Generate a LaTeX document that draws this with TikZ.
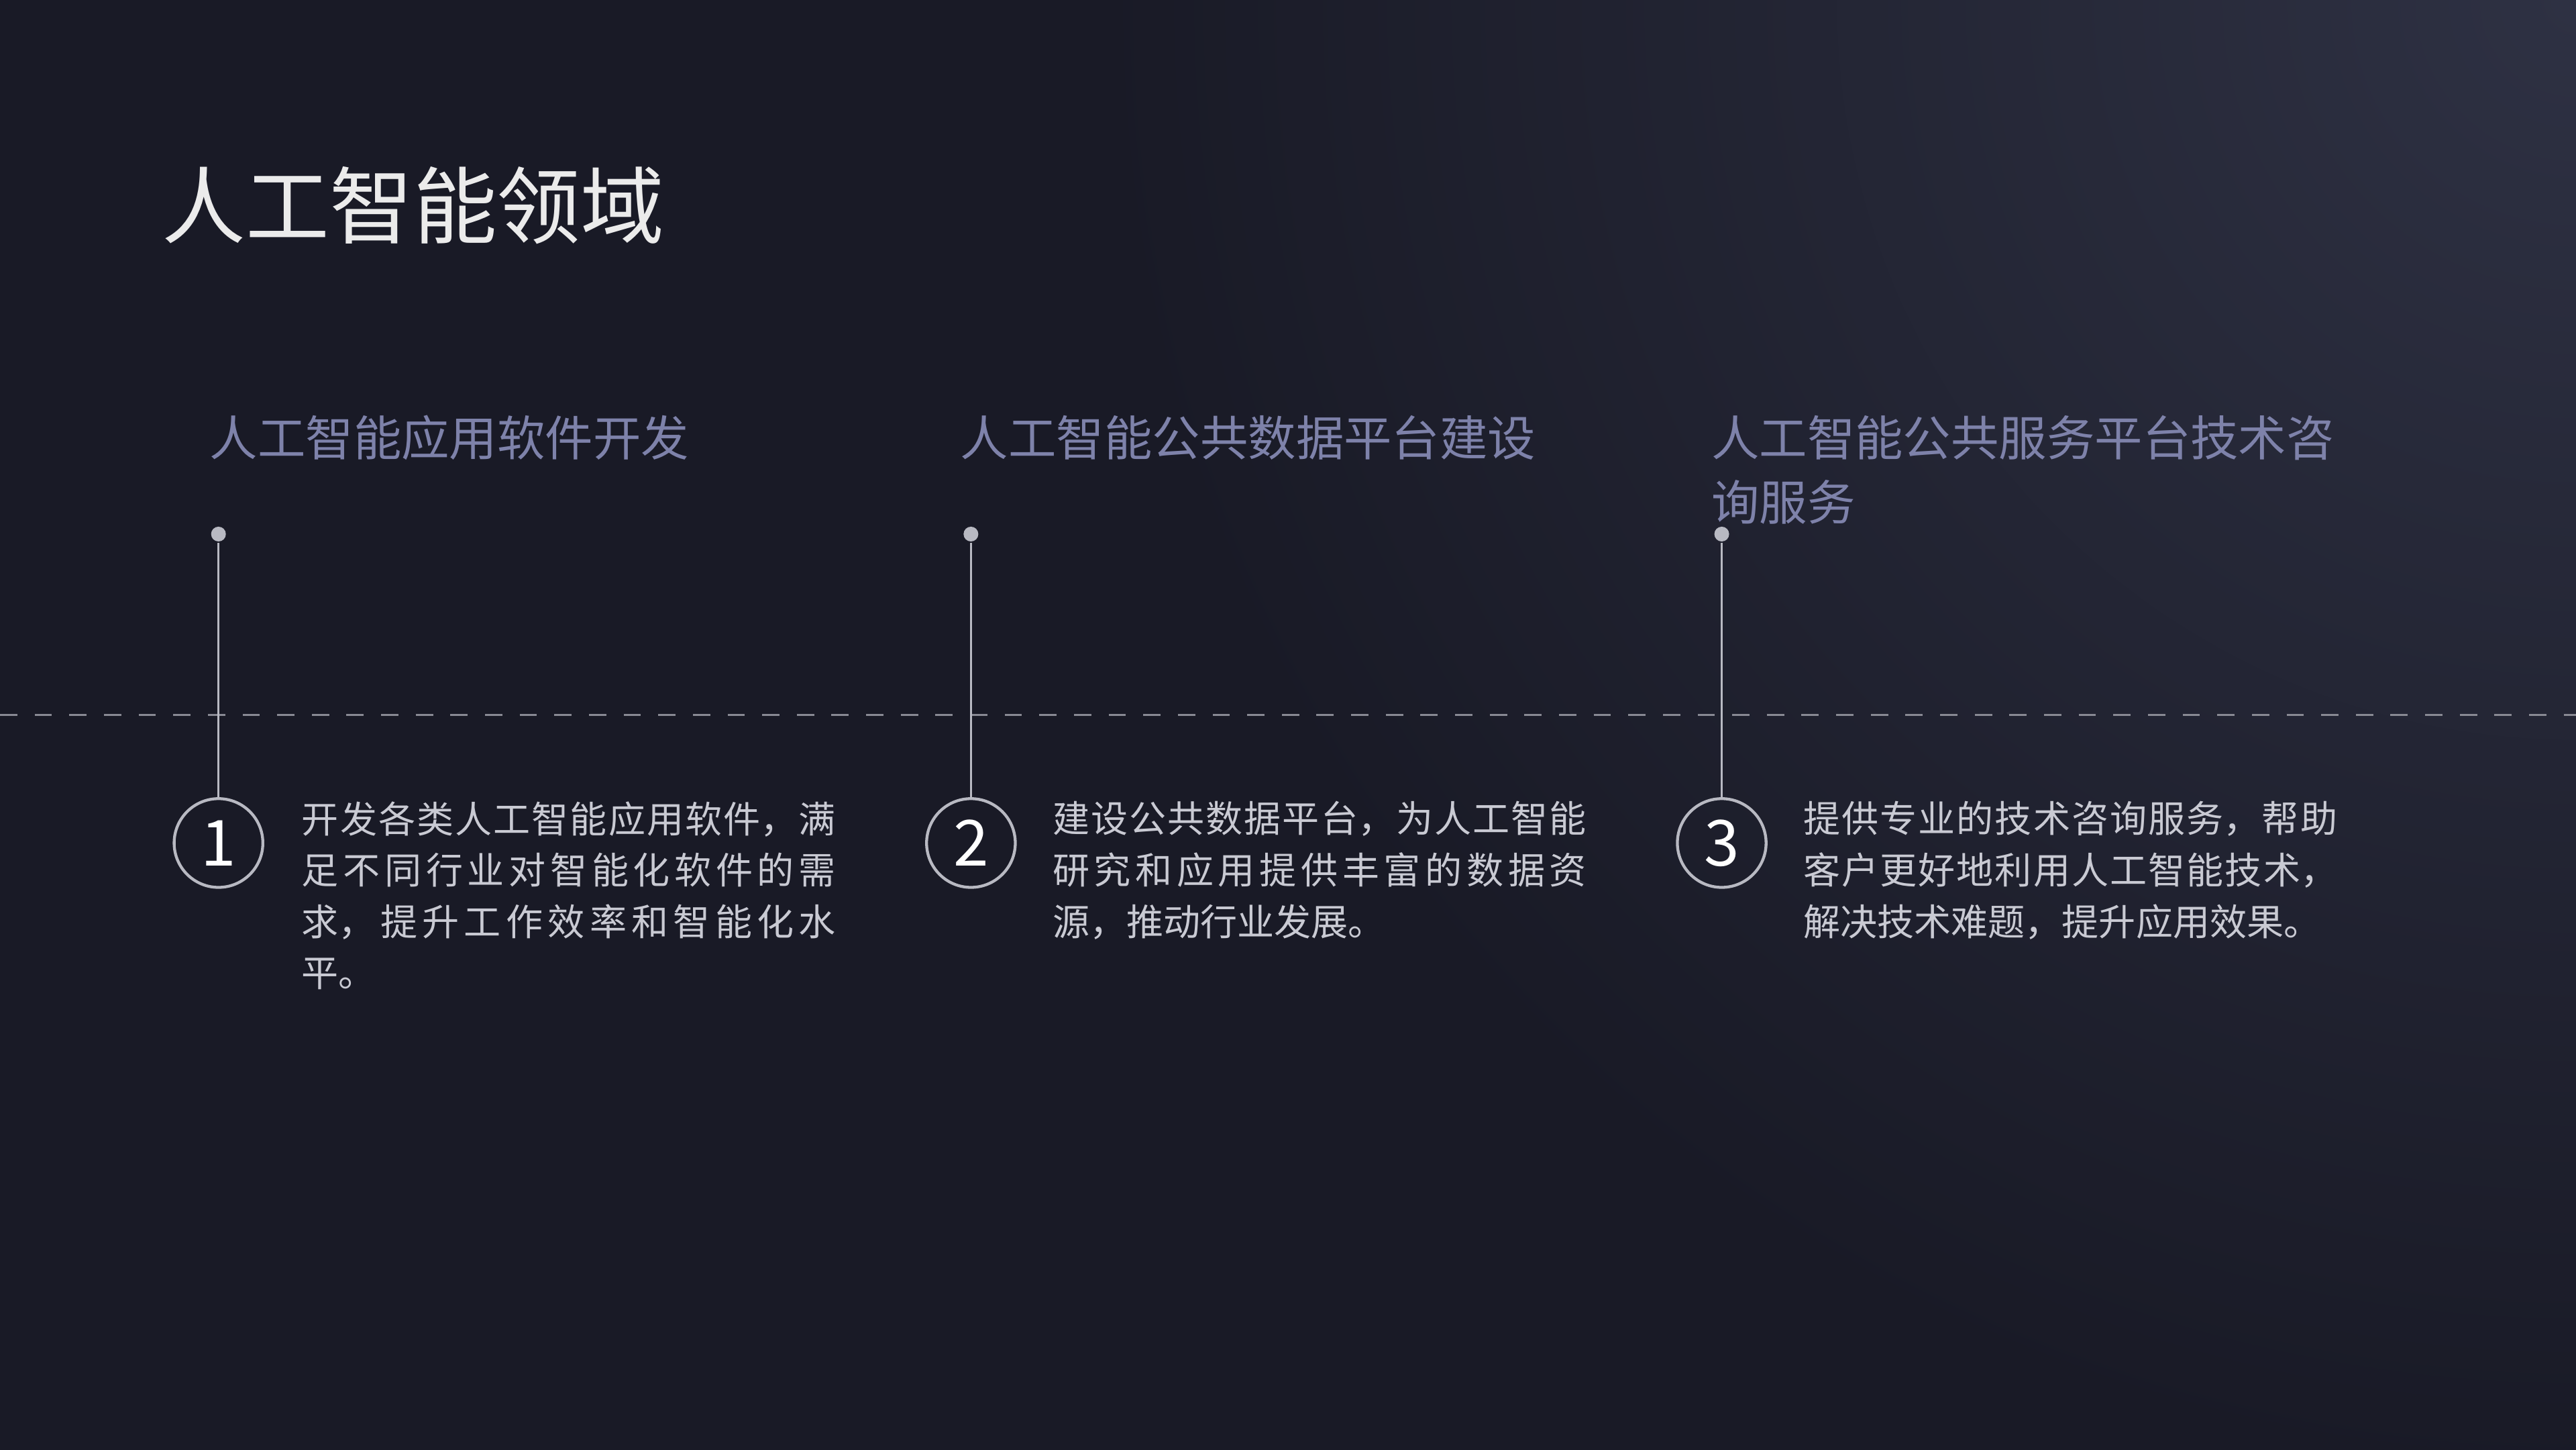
\documentclass[tikz,border=0pt]{standalone}
\usepackage{fontspec}
\newfontfamily\cjk{Noto Sans CJK SC}
\XeTeXlinebreaklocale "zh"
\XeTeXlinebreakskip=0pt plus 1pt
\usetikzlibrary{positioning}
\definecolor{bgdark}{HTML}{191A26}
\definecolor{bglight}{HTML}{2E3143}
\definecolor{headcol}{HTML}{7E82AA}
\definecolor{bodycol}{HTML}{C9CAD3}
\definecolor{linecol}{HTML}{B8B9C2}
\tikzset{
  heading/.style={anchor=north west, text=headcol, font=\cjk\fontsize{8.3}{11.2}\selectfont, align=left, inner sep=0pt},
  body/.style={anchor=north west, text=bodycol, font=\cjk\fontsize{6.4}{8.9}\selectfont, text width=3.25cm, align=justify, inner sep=0pt},
  numcircle/.style={circle, draw=linecol, line width=0.5pt, minimum size=0.54cm, inner sep=0pt, text=white, font=\cjk\fontsize{11}{11}\selectfont},
  stemdot/.style={circle, fill=linecol, minimum size=0.09cm, inner sep=0pt}
}
\begin{document}
\begin{tikzpicture}
    % background
    \useasboundingbox (0,0) rectangle (15.68,-8.82);
    \begin{scope}
        \clip (-0.1,0.1) rectangle (15.78,-8.92);
        \fill[bgdark] (-0.1,0.1) rectangle (15.78,-8.92);
        \shade[inner color=bglight, outer color=bgdark] (15.68,0) circle (9);
    \end{scope}

    % title
    \node[anchor=west, text=white!92!black, font=\cjk\fontsize{14.5}{14.5}\selectfont, inner sep=0pt] (title) at (0.98,-1.25) {人工智能领域};

    % dashed axis
    \draw[linecol!70!bgdark, dashed, line width=0.4pt] (0,-4.35) -- (15.68,-4.35);

    % columns
    \node[heading] (head1) at (1.27,-2.52) {人工智能应用软件开发};
    \node[heading] (head2) at (5.84,-2.52) {人工智能公共数据平台建设};
    \node[heading] (head3) at (10.41,-2.52) {人工智能公共服务平台技术咨\\询服务};

    \node[stemdot] (dot1) at (1.33,-3.25) {};
    \node[stemdot] (dot2) at (5.91,-3.25) {};
    \node[stemdot] (dot3) at (10.48,-3.25) {};

    \node[numcircle] (num1) at (1.33,-5.13) {1};
    \node[numcircle] (num2) at (5.91,-5.13) {2};
    \node[numcircle] (num3) at (10.48,-5.13) {3};

    \draw[linecol, line width=0.4pt] (dot1) -- (num1);
    \draw[linecol, line width=0.4pt] (dot2) -- (num2);
    \draw[linecol, line width=0.4pt] (dot3) -- (num3);

    \node[body] (text1) at (1.83,-4.87) {开发各类人工智能应用软件，满\linebreak 足不同行业对智能化软件的需\linebreak 求，提升工作效率和智能化水\linebreak 平。};
    \node[body] (text2) at (6.40,-4.87) {建设公共数据平台，为人工智能\linebreak 研究和应用提供丰富的数据资\linebreak 源，推动行业发展。};
    \node[body] (text3) at (10.97,-4.87) {提供专业的技术咨询服务，帮助\linebreak 客户更好地利用人工智能技术，\linebreak 解决技术难题，提升应用效果。};
\end{tikzpicture}
\end{document}
